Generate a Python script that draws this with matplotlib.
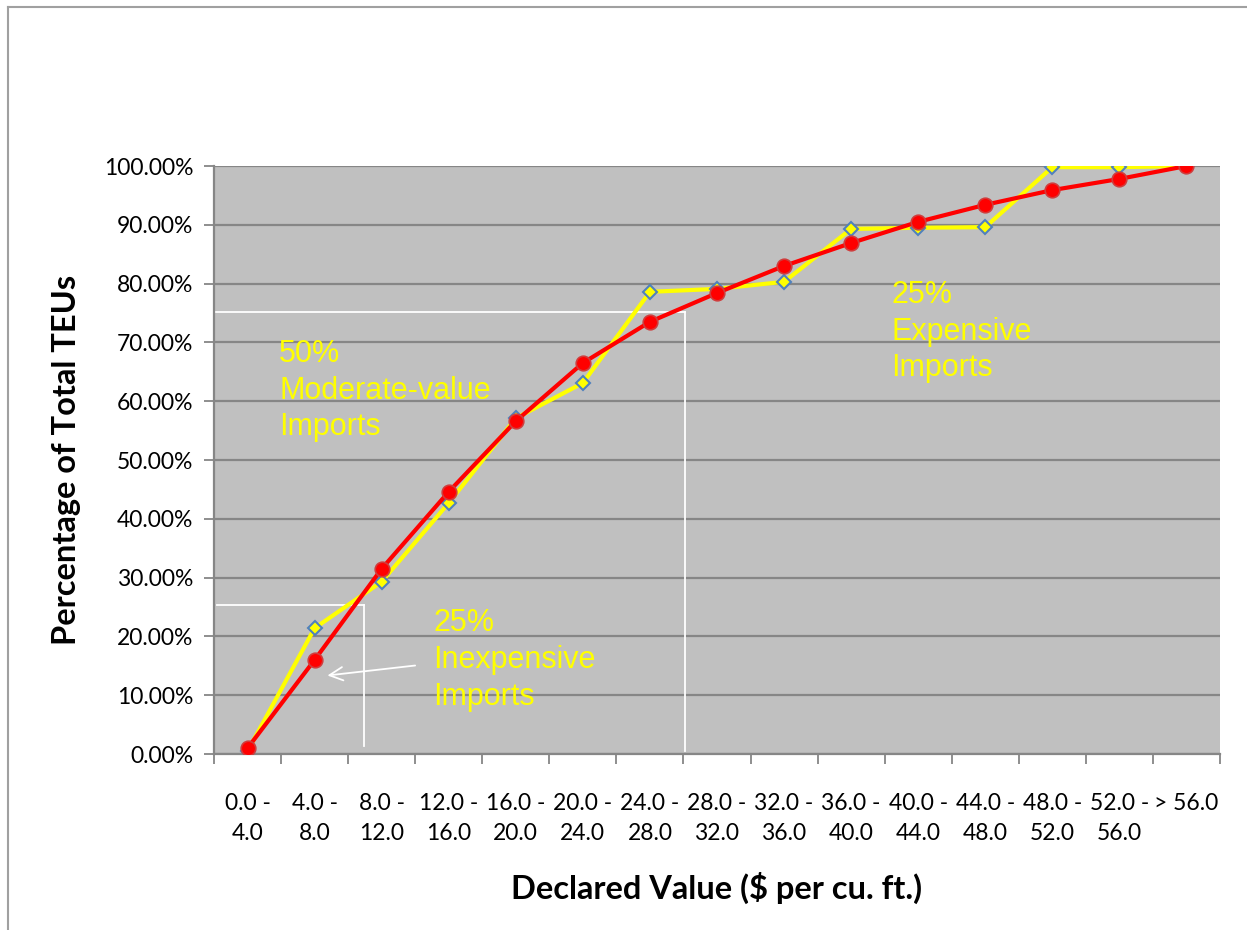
import matplotlib
matplotlib.use("Agg")
import matplotlib.pyplot as plt
from matplotlib.lines import Line2D
import numpy as np

categories = ["0.0 -\n4.0", "4.0 -\n8.0", "8.0 -\n12.0", "12.0 -\n16.0", "16.0 -\n20.0",
              "20.0 -\n24.0", "24.0 -\n28.0", "28.0 -\n32.0", "32.0 -\n36.0", "36.0 -\n40.0",
              "40.0 -\n44.0", "44.0 -\n48.0", "48.0 -\n52.0", "52.0 -\n56.0", "> 56.0"]
yellow_vals = [0.5, 21.4, 29.3, 42.7, 57.1, 63.1, 78.6, 79.1, 80.3, 89.3, 89.5, 89.6, 99.8, 99.8, 100.0]
red_vals = [1.0, 16.0, 31.5, 44.6, 56.6, 66.5, 73.5, 78.4, 83.0, 86.9, 90.5, 93.4, 95.9, 97.8, 100.0]

# guide lines (x in category units, y in percent)
guide_75 = (6.52, 75.2)
guide_25 = (1.74, 25.3)

W, H = 1247, 930
fig = plt.figure(figsize=(W / 100, H / 100), dpi=100)
ax = fig.add_axes([214 / W, 1 - 754 / H, (1220 - 214) / W, (754 - 166) / H])
ax.set_facecolor("#c0c0c0")

x = np.arange(len(categories))
ax.set_xlim(-0.5, len(categories) - 0.5)
ax.set_ylim(0, 100)

ax.set_yticks(np.arange(0, 101, 10))
ax.set_yticklabels(["%.2f%%" % v for v in np.arange(0, 101, 10)], fontfamily="Lato", fontsize=16.5)
ax.yaxis.grid(True, color="#868686", linewidth=1.6)
ax.set_axisbelow(True)

ax.set_xticks(np.arange(-0.5, len(categories), 1.0))
ax.set_xticklabels([])
ax.set_xticks(x, minor=True)
ax.set_xticklabels(categories, minor=True, fontfamily="Lato", fontsize=16.5, linespacing=1.55)
ax.tick_params(axis="x", which="minor", length=0, pad=28)
ax.tick_params(axis="x", which="major", length=7, width=1.3, color="#868686")
ax.tick_params(axis="y", length=7, width=1.3, color="#868686", pad=8)

for s in ["top", "right"]:
    ax.spines[s].set_visible(False)
for s in ["left", "bottom"]:
    ax.spines[s].set_color("#868686")
    ax.spines[s].set_linewidth(1.6)

# white guide lines
ax.plot([-0.5, guide_75[0]], [guide_75[1], guide_75[1]], color="white", lw=1.3)
ax.plot([guide_75[0], guide_75[0]], [guide_75[1], 0.5], color="white", lw=1.3)
ax.plot([-0.45, guide_25[0]], [guide_25[1], guide_25[1]], color="white", lw=1.3)
ax.plot([guide_25[0], guide_25[0]], [guide_25[1], 1.3], color="white", lw=1.3)

ax.plot(x, yellow_vals, color="#ffff00", lw=3, marker="D", markersize=7.5,
        markerfacecolor="#ffff00", markeredgecolor="#4f81bd", markeredgewidth=1.5, zorder=3)
ax.plot(x, red_vals, color="#ff0000", lw=3, marker="o", markersize=10.5,
        markerfacecolor="#ff0000", markeredgecolor="#d03c3c", markeredgewidth=1.2, zorder=4)

ax.annotate("", xy=(1.15, 13.3), xytext=(2.54, 15.1),
            arrowprops=dict(arrowstyle="->", color="white", lw=1.3, mutation_scale=24))

txt = dict(color="#ffff00", fontfamily="Liberation Sans", fontsize=22, linespacing=1.29,
           va="top", ha="left")
ax.text(0.47, 70.6, "50%\nModerate-value\nImports", **txt)
ax.text(2.77, 24.8, "25%\nInexpensive\nImports", **txt)
ax.text(9.6, 80.6, "25%\nExpensive\nImports", **txt)

ax.set_ylabel("Percentage of Total TEUs", fontfamily="Lato", fontweight="bold", fontsize=23.5, labelpad=16)
ax.set_xlabel("Declared Value ($ per cu. ft.)", fontfamily="Lato", fontweight="bold", fontsize=23.5, labelpad=20)

# chart border (only left and top visible in the crop)
fig.add_artist(Line2D([7.5 / W, 7.5 / W], [0, 1 - 7.5 / H], color="#a0a0a0", lw=1.5))
fig.add_artist(Line2D([7.5 / W, 1], [1 - 7.5 / H, 1 - 7.5 / H], color="#a0a0a0", lw=1.5))

fig.savefig("out.png", dpi=100)
